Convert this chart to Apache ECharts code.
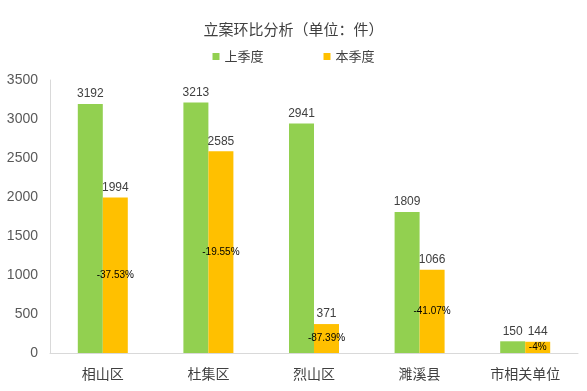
<!DOCTYPE html>
<html><head><meta charset="utf-8">
<script src="https://cdn.jsdelivr.net/npm/echarts@6/dist/echarts.min.js"></script>
<style>html,body{margin:0;padding:0;background:#fff}#c{width:587px;height:391px}</style>
</head><body><div id="c"></div>
<script>
const categories = ['相山区', '杜集区', '烈山区', '濉溪县', '市相关单位'];
const lastQuarter = [3192, 3213, 2941, 1809, 150];
const thisQuarter = [1994, 2585, 371, 1066, 144];
const changeLabels = ['-37.53%', '-19.55%', '-87.39%', '-41.07%', '-4%'];
const yTicks = {min: 0, max: 3500, interval: 500};

const font = '"Microsoft YaHei","Noto Sans CJK SC",sans-serif';
const chart = echarts.init(document.getElementById('c'));
chart.setOption({
  animation: false,
  title: {text: '立案环比分析（单位：件）', left: 'center', top: 17,
    textStyle: {fontSize: 15, fontWeight: 'normal', color: '#404040', fontFamily: font}},
  legend: {top: 45, left: 'center', itemWidth: 7, itemHeight: 7, itemGap: 60, icon: 'rect',
    textStyle: {fontSize: 13, color: '#404040', fontFamily: font},
    data: ['上季度', '本季度']},
  grid: {left: 50, right: 9, top: 80, bottom: 38},
  xAxis: [{type: 'category', data: categories,
    axisLine: {lineStyle: {color: '#d9d9d9'}}, axisTick: {show: false},
    axisLabel: {fontSize: 14, color: '#404040', fontFamily: font, margin: 14}},
    {type: 'category', data: categories, show: false}],
  yAxis: {type: 'value', min: yTicks.min, max: yTicks.max, interval: yTicks.interval,
    axisLine: {show: true, lineStyle: {color: '#d9d9d9'}}, axisTick: {show: false},
    splitLine: {show: false},
    axisLabel: {fontSize: 14, color: '#595959', fontFamily: 'Liberation Sans, Arial, sans-serif', margin: 12,
      formatter: v => String(v)}},
  series: [
    {name: '上季度', type: 'bar', data: lastQuarter, barWidth: 25, barGap: 0,
      itemStyle: {color: '#92D050'},
      label: {show: true, position: 'top', fontSize: 12, color: '#404040', fontFamily: 'Liberation Sans, Arial, sans-serif', distance: 4}},
    {name: '本季度', type: 'bar', data: thisQuarter, barWidth: 25, barGap: 0,
      itemStyle: {color: '#FFC000'},
      label: {show: true, position: 'top', fontSize: 12, color: '#404040', fontFamily: 'Liberation Sans, Arial, sans-serif', distance: 4}},
    {name: 'dummy', type: 'bar', xAxisIndex: 1, data: categories.map(() => '-'), barWidth: 25, barGap: 0,
      silent: true, itemStyle: {color: 'transparent'}},
    {name: 'pct', type: 'bar', xAxisIndex: 1, data: thisQuarter, barWidth: 25, barGap: 0,
      silent: true, itemStyle: {color: 'transparent'},
      label: {show: true, position: 'inside', fontSize: 10, color: '#000',
        fontFamily: 'Liberation Sans Narrow, Liberation Sans, Arial, sans-serif',
        formatter: p => changeLabels[p.dataIndex]}}
  ]
});
</script></body></html>
